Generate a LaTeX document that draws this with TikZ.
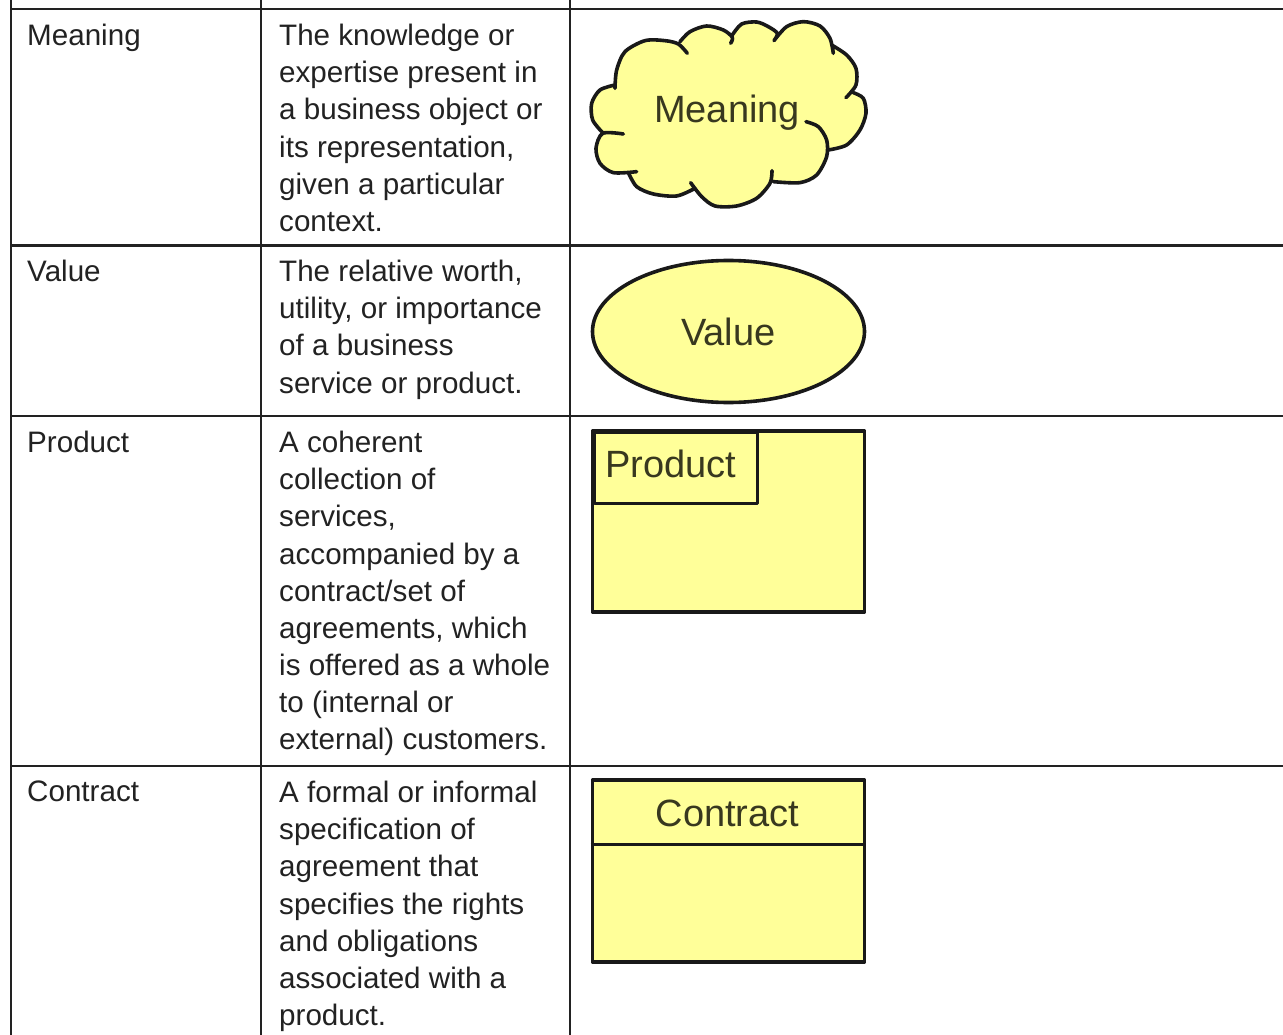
\documentclass[tikz,border=0pt]{standalone}
\usepackage{fontspec}
\setmainfont{Liberation Sans}
\usetikzlibrary{shapes.geometric}
\definecolor{shapefill}{HTML}{FFFF99}
\definecolor{ink}{HTML}{222222}
\tikzset{
  grid/.style={draw=ink,line width=2pt},
  cell/.style={anchor=north west,inner sep=0pt,align=left,text=ink,font=\fontsize{29.6}{37.15}\selectfont},
  shapebox/.style={draw=black!90,fill=shapefill,line width=3.6pt,line join=round},
  shapelabel/.style={text=ink!90!yellow,inner sep=0pt,font=\fontsize{38}{44}\selectfont}
}
\begin{document}
\begin{tikzpicture}[x=1pt,y=-1pt]
\useasboundingbox[fill=white] (0,0) rectangle (1283,1035);
% grid
\draw[grid] (10.5,0) -- (10.5,1035);
\draw[grid] (261,0) -- (261,1035);
\draw[grid] (570,0) -- (570,1035);
\draw[grid] (10,9.5) -- (1283,9.5);
\draw[grid,line width=3.5pt] (10,245.5) -- (1283,245.5);
\draw[grid] (10,416) -- (1283,416);
\draw[grid] (10,766) -- (1283,766);
% col 1
\node[cell] (n1) at (27,24) {Meaning};
\node[cell] (n2) at (27,260) {Value};
\node[cell] (n3) at (27,431) {Product};
\node[cell] (n4) at (27,781) {Contract};
% col 2
\node[cell] (d1) at (279,24) {The knowledge or\\expertise present in\\a business object or\\its representation,\\given a particular\\context.};
\node[cell] (d2) at (279,260) {The relative worth,\\utility, or importance\\of a business\\service or product.};
\node[cell] (d3) at (279,431) {A coherent\\collection of\\services,\\accompanied by a\\contract/set of\\agreements, which\\is offered as a whole\\to (internal or\\external) customers.};
\node[cell] (d4) at (279,781) {A formal or informal\\specification of\\agreement that\\specifies the rights\\and obligations\\associated with a\\product.};
% cloud
\begin{scope}[shift={(570,0)},x=0.3333pt,y=-0.3333pt]
\fill[shapefill] plot[smooth] coordinates {(135,265) (140,210) (165,155) (225,122) (285,122) (325,132) (352,160)}
  -- plot[smooth] coordinates {(330,125) (360,95) (410,78) (460,90) (487,112) (482,130)}
  -- plot[smooth] coordinates {(487,105) (515,72) (560,66) (595,80) (622,100) (612,122)}
  -- plot[smooth] coordinates {(612,122) (650,80) (700,65) (750,78) (780,115) (790,160)}
  -- plot[smooth] coordinates {(785,135) (830,165) (858,205) (858,255) (828,293)}
  -- plot[smooth] coordinates {(850,278) (880,295) (888,340) (870,390) (830,435) (775,450)}
  -- plot[smooth] coordinates {(770,445) (770,470) (740,525) (690,548) (610,545)}
  -- plot[smooth] coordinates {(606,540) (600,550) (560,595) (500,618) (435,618) (395,590) (362,548)}
  -- plot[smooth] coordinates {(375,565) (320,588) (250,582) (200,560) (175,518)}
  -- plot[smooth] coordinates {(180,518) (130,518) (90,490) (78,445) (98,400)}
  -- plot[smooth] coordinates {(98,398) (68,360) (65,310) (90,270) (135,255)} -- cycle;
\draw[black!90,line width=3.6pt,line cap=round,line join=round]
  plot[smooth] coordinates {(135,265) (140,210) (165,155) (225,122) (285,122) (325,132) (352,160)}
  plot[smooth] coordinates {(330,125) (360,95) (410,78) (460,90) (487,112) (482,130)}
  plot[smooth] coordinates {(487,105) (515,72) (560,66) (595,80) (622,100) (612,122)}
  plot[smooth] coordinates {(612,122) (650,80) (700,65) (750,78) (780,115) (790,160)}
  plot[smooth] coordinates {(785,135) (830,165) (858,205) (858,255) (828,293)}
  plot[smooth] coordinates {(850,278) (880,295) (888,340) (870,390) (830,435) (775,450)}
  plot[smooth] coordinates {(708,365) (745,380) (770,420) (770,470) (740,525) (690,548) (610,545)}
  plot[smooth] coordinates {(606,512) (600,550) (560,595) (500,618) (435,618) (395,590) (362,548)}
  plot[smooth] coordinates {(375,565) (320,588) (250,582) (200,560) (175,518)}
  plot[smooth] coordinates {(200,515) (130,518) (90,490) (78,445) (98,400) (160,402)}
  plot[smooth] coordinates {(98,398) (68,360) (65,310) (90,270) (135,255)};
\end{scope}
\node[shapelabel] (cloudlabel) at (727,113) {Meaning};
% value
\node[shapebox,ellipse,minimum width=272pt,minimum height=142pt,inner sep=0pt,shapelabel] (valueshape) at (728.5,331.5) {Value};
% product
\node[shapebox,rectangle,minimum width=272pt,minimum height=181pt] (productshape) at (728.5,521.5) {};
\node[shapebox,rectangle,minimum width=163pt,minimum height=71pt,anchor=north west,line width=3pt] (producttab) at (592.5,431) {};
\node[shapelabel] (productlabel) at (670.5,464) {Product};
% contract
\node[shapebox,rectangle,minimum width=272pt,minimum height=182pt] (contractshape) at (728.5,871) {};
\draw[black!90,line width=3pt] (contractshape.west |- 0,844) -- (contractshape.east |- 0,844);
\node[shapelabel] (contractlabel) at (727.5,813) {Contract};
\end{tikzpicture}
\end{document}
